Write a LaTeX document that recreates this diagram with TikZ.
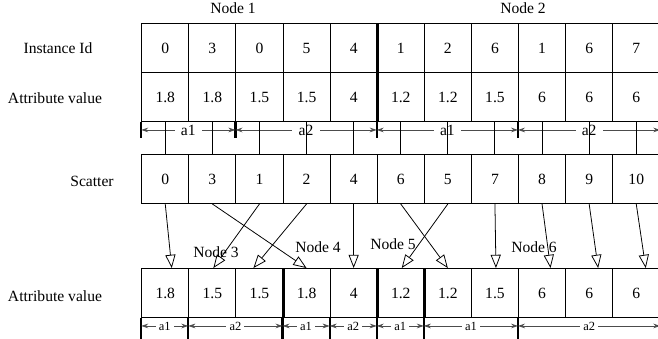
\documentclass[tikz,border=0pt]{standalone}
\usepackage{fontspec}
\setmainfont{Liberation Serif}
\usepackage{tikz}
\usetikzlibrary{arrows.meta}
\usetikzlibrary{calc}
\tikzset{
    cell/.style={draw, line width=0.6pt, minimum width=30.2pt, minimum height=31.4pt, inner sep=0pt},
    nodesep/.style={line width=1.8pt},
    scat/.style={line width=0.5pt, -{Triangle[open, length=8.5pt, width=6.5pt]}},
    dim/.style={draw=black!70, line width=0.5pt, {Stealth[length=4.5pt, width=3pt]}-{Stealth[length=4.5pt, width=3pt]}},
    dimlabel/.style={fill=white, inner xsep=4pt, inner ysep=1pt, text=black},
    tick/.style={line width=1.4pt}}

\begin{document}
\begin{tikzpicture}[x=0.641pt, y=-0.641pt]
    \useasboundingbox (0,0) rectangle (658,339);

    \node (n1) at (233,8) {Node 1};
    \node (n2) at (523,8) {Node 2};
    \node (lid) at (58,48) {Instance Id};
    \node (lattr) at (55,98) {Attribute value};
    \node (lscat) at (92,181) {Scatter};
    \node (lattrb) at (55,296) {Attribute value};

    % instance ids and attribute values before the scatter
    \foreach \v [count=\i from 0] in {0,3,0,5,4,1,2,6,1,6,7}
        \node[cell] (t\i) at ({165.25+47.1*\i},48) {\v};
    \foreach \v [count=\i from 0] in {1.8,1.8,1.5,1.5,4,1.2,1.2,1.5,6,6,6}
        \node[cell] (u\i) at ({165.25+47.1*\i},97) {\v};
    \draw[nodesep] (t4.north east) -- (u4.south east);

    % attribute ranges
    \draw[tick] (u0.south west) -- ++(0,16);
    \draw[tick] (u2.south west) -- ++(0,16);
    \draw[tick] (u5.south west) -- ++(0,16);
    \draw[tick] (u8.south west) -- ++(0,16);
    \draw[dim] ($(u0.south west)+(0,8)$) -- node[dimlabel] {a1} ($(u2.south west)+(0,8)$);
    \draw[dim] ($(u2.south west)+(0,8)$) -- node[dimlabel] {a2} ($(u5.south west)+(0,8)$);
    \draw[dim] ($(u5.south west)+(0,8)$) -- node[dimlabel] {a1} ($(u8.south west)+(0,8)$);
    \draw[dim] ($(u8.south west)+(0,8)$) -- node[dimlabel] {a2} ($(u10.south east)+(0,8)$);

    % scatter indices
    \foreach \v [count=\i from 0] in {0,3,1,2,4,6,5,7,8,9,10}
        \node[cell] (s\i) at ({165.25+47.1*\i},179) {\v};
    \foreach \i in {0,...,10}
        \draw[line width=0.6pt] (u\i.south) -- (s\i.north);

    % attribute values after the scatter
    \foreach \v [count=\i from 0] in {1.8,1.5,1.5,1.8,4,1.2,1.2,1.5,6,6,6}
        \node[cell] (b\i) at ({165.25+47.1*\i},293) {\v};
    \draw[nodesep] (b2.north east) -- (b2.south east);
    \draw[nodesep] (b4.north east) -- (b4.south east);
    \draw[nodesep] (b5.north east) -- (b5.south east);

    \node (n3) at (216,252) {Node 3};
    \node (n4) at (318,247) {Node 4};
    \node (n5) at (393,244) {Node 5};
    \node (n6) at (534,247) {Node 6};

    \foreach \i/\j/\dt in {0/0/6.5, 1/3/0, 2/1/1, 3/2/-6, 4/4/0, 5/6/0, 6/5/1, 7/7/1, 8/8/8.5, 9/9/9, 10/10/9.5}
        \draw[scat] (s\i.south) -- ($(b\j.north)+(\dt,0)$);

    % ranges after the scatter
    \foreach \k in {b0,b1,b3,b4,b5,b6,b8}
        \draw[tick] (\k.south west) -- ++(0,22);
    \begin{scope}[dimlabel/.append style={font=\footnotesize, inner xsep=2pt}]
        \draw[dim] ($(b0.south west)+(0,8)$) -- node[dimlabel] {a1} ($(b1.south west)+(0,8)$);
        \draw[dim] ($(b1.south west)+(0,8)$) -- node[dimlabel] {a2} ($(b3.south west)+(0,8)$);
        \draw[dim] ($(b3.south west)+(0,8)$) -- node[dimlabel] {a1} ($(b4.south west)+(0,8)$);
        \draw[dim] ($(b4.south west)+(0,8)$) -- node[dimlabel] {a2} ($(b5.south west)+(0,8)$);
        \draw[dim] ($(b5.south west)+(0,8)$) -- node[dimlabel] {a1} ($(b6.south west)+(0,8)$);
        \draw[dim] ($(b6.south west)+(0,8)$) -- node[dimlabel] {a1} ($(b8.south west)+(0,8)$);
        \draw[dim] ($(b8.south west)+(0,8)$) -- node[dimlabel] {a2} ($(b10.south east)+(0,8)$);
    \end{scope}
\end{tikzpicture}
\end{document}
